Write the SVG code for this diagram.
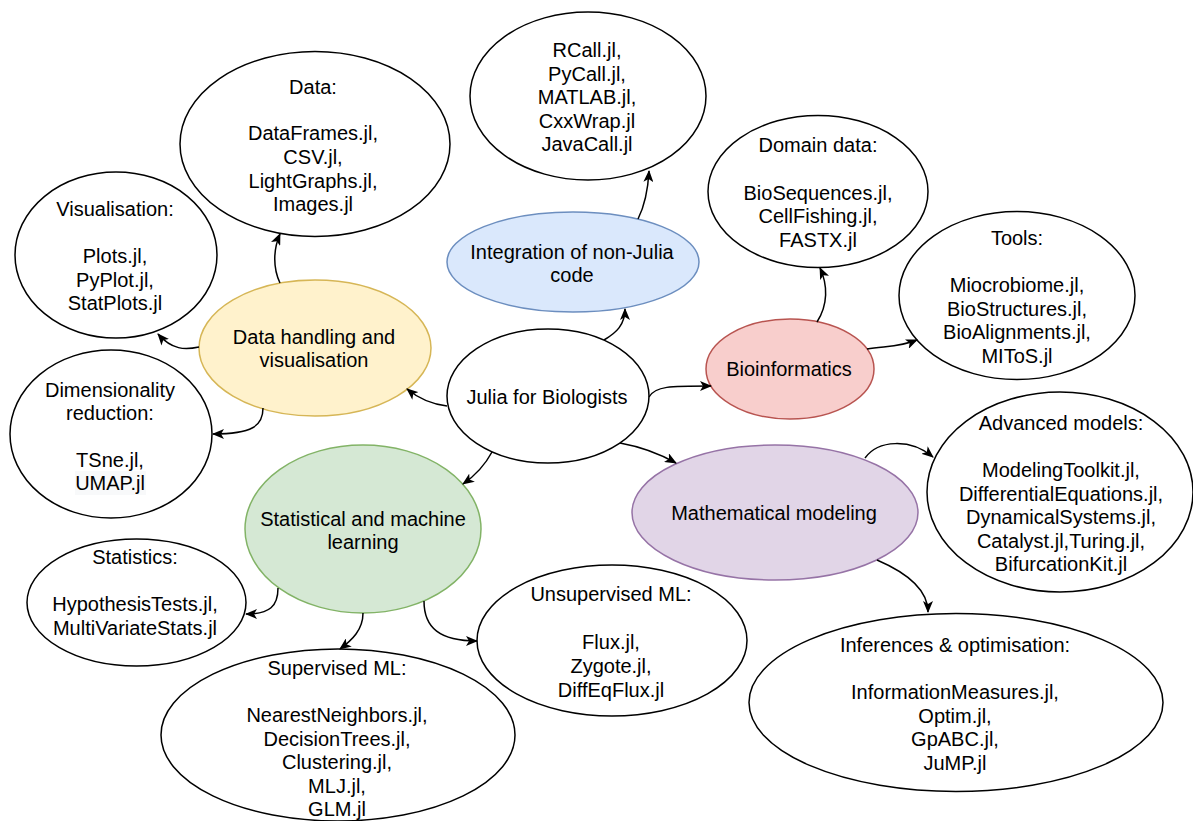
<svg xmlns="http://www.w3.org/2000/svg" width="1193" height="821" viewBox="0 0 1193 821">
<defs>
<style>
.n{fill:#fff;stroke:#000;stroke-width:1.5}
.yel{fill:#fff2cc;stroke:#d6b656;stroke-width:1.5}
.blu{fill:#dae8fc;stroke:#6c8ebf;stroke-width:1.5}
.red{fill:#f8cecc;stroke:#b85450;stroke-width:1.5}
.grn{fill:#d5e8d4;stroke:#82b366;stroke-width:1.5}
.pur{fill:#e1d5e7;stroke:#9673a6;stroke-width:1.5}
text{font-family:"Liberation Sans",Arial,Helvetica,sans-serif;font-size:20px;fill:#000;text-anchor:middle}
.e{fill:none;stroke:#000;stroke-width:1.5;marker-end:url(#arr)}
</style>
<marker id="arr" markerUnits="userSpaceOnUse" viewBox="0 0 12 10" refX="11" refY="5" markerWidth="12" markerHeight="10" orient="auto">
<path d="M0,0 L12,5 L0,10 L3,5 Z" fill="#000"/>
</marker>
</defs>
<rect width="1193" height="821" fill="#fff"/>

<g id="data">
<ellipse class="n" cx="315" cy="144" rx="135" ry="92.5"/>
<text x="313"><tspan x="313" y="94">Data:</tspan><tspan x="313" y="140">DataFrames.jl,</tspan><tspan x="313" y="164">CSV.jl,</tspan><tspan x="313" y="187.5">LightGraphs.jl,</tspan><tspan x="313" y="211">Images.jl</tspan></text>
</g>
<g id="nonjulia">
<ellipse class="n" cx="588" cy="96" rx="118" ry="84"/>
<text><tspan x="587" y="57">RCall.jl,</tspan><tspan x="587" y="80.5">PyCall.jl,</tspan><tspan x="587" y="104">MATLAB.jl,</tspan><tspan x="587" y="127.5">CxxWrap.jl</tspan><tspan x="587" y="151">JavaCall.jl</tspan></text>
</g>
<g id="integration">
<ellipse class="blu" cx="573" cy="262" rx="126" ry="50"/>
<text><tspan x="572" y="258.7">Integration of non-Julia</tspan><tspan x="572" y="282">code</tspan></text>
</g>
<g id="visualisation">
<ellipse class="n" cx="116" cy="255" rx="101" ry="83"/>
<text><tspan x="115" y="216">Visualisation:</tspan><tspan x="115" y="263.2">Plots.jl,</tspan><tspan x="115" y="286.8">PyPlot.jl,</tspan><tspan x="115" y="310.4">StatPlots.jl</tspan></text>
</g>
<g id="datahandling">
<ellipse class="yel" cx="315" cy="348" rx="116" ry="68"/>
<text><tspan x="314" y="344">Data handling and</tspan><tspan x="314" y="367">visualisation</tspan></text>
</g>
<g id="dimred">
<ellipse class="n" cx="111" cy="434" rx="101" ry="84"/>
<rect x="75" y="471" width="71" height="24" fill="#f8f9fa"/>
<text><tspan x="110" y="396.5">Dimensionality</tspan><tspan x="110" y="419.5">reduction:</tspan><tspan x="110" y="466.5">TSne.jl,</tspan><tspan x="110" y="490">UMAP.jl</tspan></text>
</g>
<g id="julia">
<ellipse class="n" cx="548" cy="396" rx="101" ry="67"/>
<text x="547" y="404">Julia for Biologists</text>
</g>
<g id="domain">
<ellipse class="n" cx="818" cy="191.5" rx="110" ry="76"/>
<text><tspan x="818" y="152">Domain data:</tspan><tspan x="818" y="199.5">BioSequences.jl,</tspan><tspan x="818" y="223">CellFishing.jl,</tspan><tspan x="818" y="246.5">FASTX.jl</tspan></text>
</g>
<g id="tools">
<ellipse class="n" cx="1017" cy="295.5" rx="118" ry="84"/>
<text><tspan x="1017" y="245">Tools:</tspan><tspan x="1017" y="292">Miocrobiome.jl,</tspan><tspan x="1017" y="315.5">BioStructures.jl,</tspan><tspan x="1017" y="339">BioAlignments.jl,</tspan><tspan x="1017" y="362.5">MIToS.jl</tspan></text>
</g>
<g id="bioinformatics">
<ellipse class="red" cx="790" cy="369" rx="84" ry="50"/>
<text x="789" y="376">Bioinformatics</text>
</g>
<g id="math">
<ellipse class="pur" cx="775" cy="512.5" rx="143" ry="67.5"/>
<text x="774" y="520">Mathematical modeling</text>
</g>
<g id="advanced">
<ellipse class="n" cx="1060" cy="492" rx="133" ry="100"/>
<text><tspan x="1061" y="430">Advanced models:</tspan><tspan x="1061" y="477">ModelingToolkit.jl,</tspan><tspan x="1061" y="500.5">DifferentialEquations.jl,</tspan><tspan x="1061" y="524">DynamicalSystems.jl,</tspan><tspan x="1061" y="547.5">Catalyst.jl,Turing.jl,</tspan><tspan x="1061" y="571">BifurcationKit.jl</tspan></text>
</g>
<g id="inferences">
<ellipse class="n" cx="956" cy="702.5" rx="207" ry="89"/>
<text><tspan x="955" y="652">Inferences &amp; optimisation:</tspan><tspan x="955" y="699">InformationMeasures.jl,</tspan><tspan x="955" y="722.5">Optim.jl,</tspan><tspan x="955" y="746">GpABC.jl,</tspan><tspan x="955" y="769.5">JuMP.jl</tspan></text>
</g>
<g id="statml">
<ellipse class="grn" cx="363" cy="529" rx="118" ry="84"/>
<text><tspan x="363" y="525.5">Statistical and machine</tspan><tspan x="363" y="549">learning</tspan></text>
</g>
<g id="statistics">
<ellipse class="n" cx="136.5" cy="602.5" rx="109.5" ry="63.5"/>
<text><tspan x="135" y="564">Statistics:</tspan><tspan x="135" y="611">HypothesisTests.jl,</tspan><tspan x="135" y="634.5">MultiVariateStats.jl</tspan></text>
</g>
<g id="supervised">
<ellipse class="n" cx="338" cy="735" rx="177" ry="86"/>
<text><tspan x="337" y="675">Supervised ML:</tspan><tspan x="337" y="722">NearestNeighbors.jl,</tspan><tspan x="337" y="745.5">DecisionTrees.jl,</tspan><tspan x="337" y="769">Clustering.jl,</tspan><tspan x="337" y="792.5">MLJ.jl,</tspan><tspan x="337" y="816">GLM.jl</tspan></text>
</g>
<g id="unsupervised">
<ellipse class="n" cx="612" cy="640.5" rx="135" ry="75.5"/>
<text><tspan x="611" y="601">Unsupervised ML:</tspan><tspan x="611" y="649">Flux.jl,</tspan><tspan x="611" y="673">Zygote.jl,</tspan><tspan x="611" y="697">DiffEqFlux.jl</tspan></text>
</g>

<g id="connectors">
<path class="e" d="M447,406 C430,404 418,398 407,389"/>
<path class="e" d="M604,340 C616,333 625,325 625,309"/>
<path class="e" d="M649,397 C655,386 670,386 711,386"/>
<path class="e" d="M620,443 C642,447 660,454 676,463"/>
<path class="e" d="M492,452 C485,465 476,475 463,484"/>
<path class="e" d="M280,283 C273,268 273,250 280,234"/>
<path class="e" d="M199,347 C185,350 172,350 158,334"/>
<path class="e" d="M263,408 C263,426 252,434 213,434"/>
<path class="e" d="M638,219 C645,205 648,190 649,171"/>
<path class="e" d="M817,322 C828,305 828,285 820,268"/>
<path class="e" d="M867,349 C885,346 900,347 917,340"/>
<path class="e" d="M865,458 C878,440 910,438 933,457"/>
<path class="e" d="M877,560 C905,572 928,588 928,612"/>
<path class="e" d="M278,588 C278,606 270,614 246,614"/>
<path class="e" d="M363,613 C363,630 352,640 340,649"/>
<path class="e" d="M424,601 C424,628 440,641 477,641"/>
</g>
</svg>
